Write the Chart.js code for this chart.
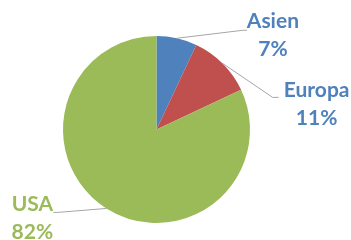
<!DOCTYPE html>
<html>
<head>
<meta charset="utf-8">
<script src="https://cdn.jsdelivr.net/npm/chart.js@4"></script>
<style>
  html, body { margin: 0; padding: 0; background: #fff; }
  #wrap { width: 351px; height: 240px; position: relative; }
</style>
</head>
<body>
<div id="wrap"><canvas id="pieChart"></canvas></div>
<script>
// Data
const regions = ['Asien', 'Europa', 'USA'];
const shares = [7, 11, 82];
const sliceColors = ['#4F81BD', '#C0504D', '#9BBB59'];
const labelColors = ['#4F81BD', '#4F81BD', '#9BBB59'];

// where each label sits, relative to the point on the slice edge
const labelOffsets = [
    { elbowX: 66, elbowY: -8, endX: 70, textX: 96, textY: -3 },
    { elbowX: 50, elbowY: 34, endX: 56, textX: 94, textY: 41 },
    { elbowX: -49, elbowY: 4, endX: -53, textX: -74, textY: 10 }
];

// Draw leader lines and the two-line labels
const outsideLabels = {
    id: 'outsideLabels',
    afterDatasetsDraw(chart) {
        const ctx = chart.ctx;
        const arcs = chart.getDatasetMeta(0).data;
        const values = chart.data.datasets[0].data;
        const total = values.reduce((a, b) => a + b, 0);
        ctx.save();
        arcs.forEach(function (arc, i) {
            const mid = (arc.startAngle + arc.endAngle) / 2;
            const ex = arc.x + Math.cos(mid) * arc.outerRadius;
            const ey = arc.y + Math.sin(mid) * arc.outerRadius;
            const o = labelOffsets[i];

            ctx.strokeStyle = '#A6A6A6';
            ctx.lineWidth = 1;
            ctx.beginPath();
            ctx.moveTo(ex, ey);
            ctx.lineTo(ex + o.elbowX, ey + o.elbowY);
            ctx.lineTo(ex + o.endX, ey + o.elbowY);
            ctx.stroke();

            const tx = ex + o.textX;
            const ty = ey + o.textY;
            ctx.fillStyle = labelColors[i];
            ctx.font = 'bold 21px Lato';
            ctx.textAlign = 'center';
            ctx.textBaseline = 'middle';
            ctx.fillText(chart.data.labels[i], tx, ty - 14);
            ctx.fillText(Math.round(values[i] / total * 100) + '%', tx, ty + 14);
        });
        ctx.restore();
    }
};

const ctx = document.getElementById('pieChart').getContext('2d');
new Chart(ctx, {
    type: 'pie',
    data: {
        labels: regions,
        datasets: [{
            data: shares,
            backgroundColor: sliceColors,
            borderWidth: 0
        }]
    },
    options: {
        responsive: true,
        maintainAspectRatio: false,
        animation: false,
        layout: {
            padding: { left: 63, right: 101, top: 36, bottom: 17 }
        },
        plugins: {
            legend: { display: false },
            tooltip: { enabled: false }
        }
    },
    plugins: [outsideLabels]
});
</script>
</body>
</html>
